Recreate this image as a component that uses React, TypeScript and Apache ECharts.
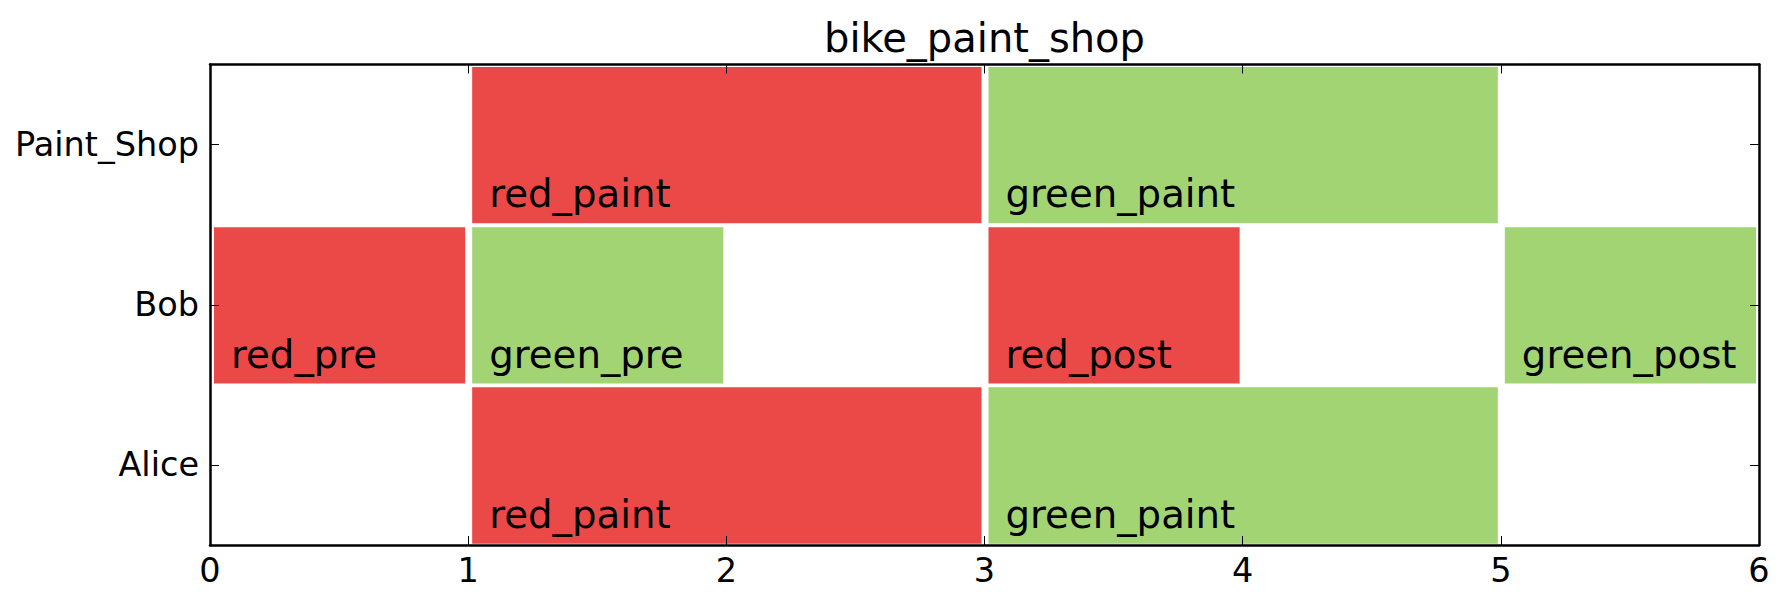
import React, { useEffect, useRef } from "react";
import * as echarts from "echarts";

const TITLE = "bike_paint_shop";
const categories = ["Alice", "Bob", "Paint_Shop"];
const xTicks = [0, 1, 2, 3, 4, 5, 6];

// [label, start, end]
const aliceTasks: [string, number, number][] = [
  ["red_paint", 1, 3],
  ["green_paint", 3, 5],
];
const bobTasks: [string, number, number][] = [
  ["red_pre", 0, 1],
  ["green_pre", 1, 2],
  ["red_post", 3, 4],
  ["green_post", 5, 6],
];
const paintShopTasks: [string, number, number][] = [
  ["red_paint", 1, 3],
  ["green_paint", 3, 5],
];

const RED = "#EB4948";
const GREEN = "#A2D474";
const FONT = "DejaVu Sans";

export default function App() {
  const ref = useRef<HTMLDivElement>(null);

  useEffect(() => {
    document.body.style.margin = "0";
    if (!ref.current) return;
    const chart = echarts.init(ref.current, null, { renderer: "svg" });

    const rows = [aliceTasks, bobTasks, paintShopTasks];
    const labels: string[] = [];
    const data: any[] = [];
    rows.forEach((tasks, rowIdx) => {
      tasks.forEach(([name, s, e]) => {
        labels.push(name);
        data.push({
          value: [s, e, rowIdx],
          itemStyle: { color: name.startsWith("red") ? RED : GREEN },
        });
      });
    });

    const axisLine = { show: true, onZero: false, lineStyle: { color: "#000", width: 2.5 } };
    const tick = { show: true, inside: true, length: 9, lineStyle: { color: "#000", width: 1 } };

    chart.setOption({
      animation: false,
      backgroundColor: "#fff",
      grid: { left: 210, right: 28, top: 64.5, bottom: 56, containLabel: false },
      graphic: [
        {
          type: "text",
          x: 984.5,
          y: 38.2,
          style: {
            text: TITLE,
            fill: "#000",
            font: `40px '${FONT}'`,
            align: "center",
            verticalAlign: "middle",
          },
        },
      ],
      xAxis: [
        {
          type: "value",
          min: xTicks[0],
          max: xTicks[xTicks.length - 1],
          interval: 1,
          position: "bottom",
          z: 5,
          axisLine,
          axisTick: tick,
          splitLine: { show: false },
          axisLabel: { color: "#000", fontSize: 33.5, fontFamily: FONT, margin: 8 },
        },
        {
          type: "value",
          min: xTicks[0],
          max: xTicks[xTicks.length - 1],
          interval: 1,
          position: "top",
          z: 5,
          axisLine,
          axisTick: tick,
          splitLine: { show: false },
          axisLabel: { show: false },
        },
      ],
      yAxis: [
        {
          type: "category",
          data: categories,
          position: "left",
          z: 5,
          axisLine,
          axisTick: { ...tick, alignWithLabel: true },
          splitLine: { show: false },
          axisLabel: { color: "#000", fontSize: 33.5, fontFamily: FONT, margin: 11 },
        },
        {
          type: "category",
          data: categories,
          position: "right",
          z: 5,
          axisLine,
          axisTick: { ...tick, alignWithLabel: true },
          splitLine: { show: false },
          axisLabel: { show: false },
        },
      ],
      series: [
        {
          type: "custom",
          z: 2,
          xAxisIndex: 0,
          yAxisIndex: 0,
          encode: { x: [0, 1], y: 2 },
          data,
          renderItem: (params: any, api: any) => {
            const row = api.value(2);
            const s = api.coord([api.value(0), row]);
            const e = api.coord([api.value(1), row]);
            const h = api.size([0, 1])[1];
            const color = api.visual("color");
            return {
              type: "group",
              children: [
                {
                  type: "rect",
                  shape: {
                    x: s[0] + 4,
                    y: s[1] - h / 2 + 2.5,
                    width: e[0] - s[0] - 7,
                    height: h - 3.8,
                  },
                  style: { fill: color },
                },
                {
                  type: "text",
                  x: s[0] + 21,
                  y: s[1] + 0.3075 * h,
                  style: {
                    text: labels[params.dataIndex],
                    fill: "#000",
                    font: `38.7px '${FONT}'`,
                    align: "left",
                    verticalAlign: "middle",
                  },
                },
              ],
            };
          },
        },
      ],
    });

    return () => chart.dispose();
  }, []);

  return <div ref={ref} style={{ width: 1787, height: 601 }} />;
}
